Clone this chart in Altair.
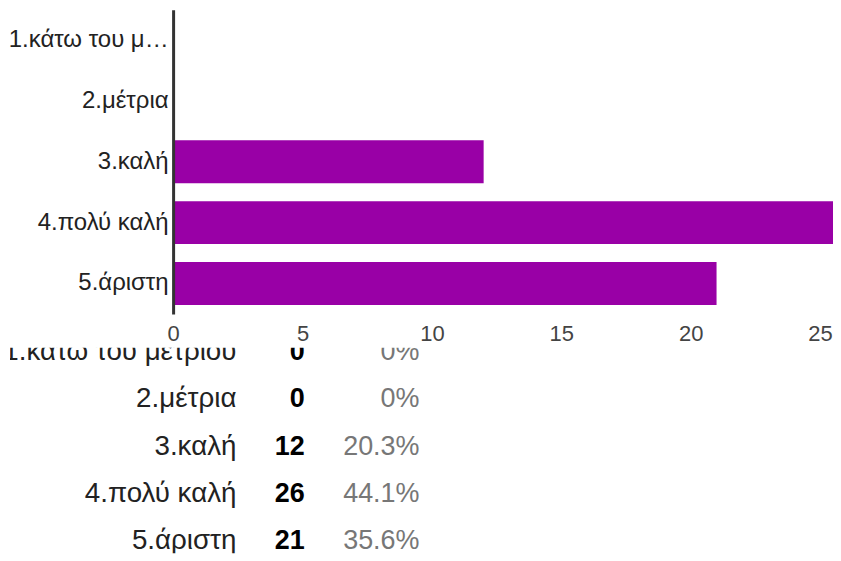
import altair as alt
import pandas as pd

# ---- data ----
categories = ["1.κάτω του μέτριου", "2.μέτρια", "3.καλή", "4.πολύ καλή", "5.άριστη"]
counts = [0, 0, 12, 26, 21]
percents = ["0%", "0%", "20.3%", "44.1%", "35.6%"]
x_ticks = [0, 5, 10, 15, 20, 25]

df = pd.DataFrame({"cat": categories, "count": counts, "pct": percents})

FONT = "Liberation Sans"
BAR = "#9900a6"
AXIS_X0 = 163.5   # where the value axis starts inside the top panel
TOP_W = 825

bars = (
    alt.Chart(df)
    .mark_bar(color=BAR, clip=True)
    .encode(
        x=alt.X(
            "count:Q",
            scale=alt.Scale(domain=[0, 25.5], nice=False, zero=True, range=[AXIS_X0, TOP_W]),
            axis=alt.Axis(
                values=x_ticks,
                title=None,
                domain=False,
                ticks=False,
                grid=False,
                labelFont=FONT,
                labelFontSize=22,
                labelColor="#444444",
                labelPadding=10,
                labelFlush=False,
                minExtent=30,
                maxExtent=30,
            ),
        ),
        y=alt.Y(
            "cat:N",
            sort=categories,
            scale=alt.Scale(paddingInner=0.295, paddingOuter=0.1475),
            axis=alt.Axis(
                title=None,
                ticks=False,
                grid=False,
                offset=-AXIS_X0,
                domainColor="#333333",
                domainWidth=3,
                labelFont=FONT,
                labelFontSize=24,
                labelColor="#222222",
                labelPadding=5,
                labelLimit=164,
                minExtent=0,
                maxExtent=0,
                zindex=1,
            ),
        ),
    )
    .properties(width=TOP_W, height=305)
)

ybase = alt.Y(
    "cat:N",
    sort=categories,
    scale=alt.Scale(type="point", padding=0.1684),
    axis=None,
)

common = dict(font=FONT, align="right", baseline="alphabetic", dy=4, clip=True)

lab = alt.Chart(df).mark_text(fontSize=27.8, color="#222222", **common).encode(
    x=alt.value(227), y=ybase, text="cat:N"
)
cnt = alt.Chart(df).mark_text(fontSize=27, fontWeight="bold", color="#000000", **common).encode(
    x=alt.value(295.5), y=ybase, text="count:Q"
)
pct = alt.Chart(df).mark_text(fontSize=27, color="#777777", **common).encode(
    x=alt.value(410.5), y=ybase, text="pct:N"
)

table = alt.layer(lab, cnt, pct).properties(width=420, height=206)

chart = (
    alt.concat(bars, table, columns=1, spacing=3, bounds="full")
    .properties(padding={"left": 0, "top": 1, "right": 0, "bottom": 0})
    .configure_view(stroke=None)
)

chart.save("out.html", embed_options={"renderer": "svg", "actions": False})
